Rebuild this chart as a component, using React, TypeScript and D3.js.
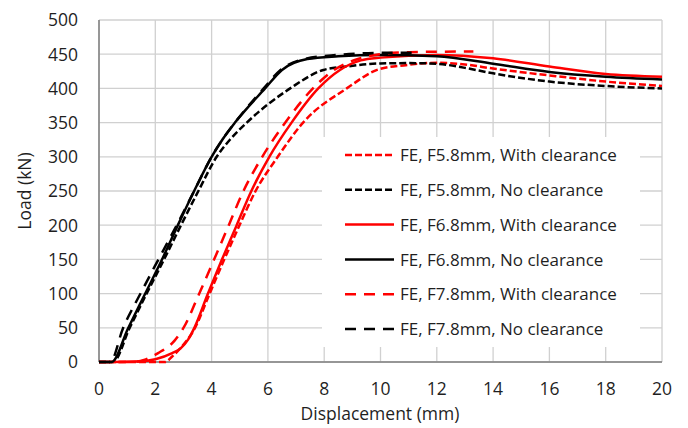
import React from "react";
import * as d3 from "d3";

type Pt = [number, number];

const xTicks = [0, 2, 4, 6, 8, 10, 12, 14, 16, 18, 20];
const yTicks = [0, 50, 100, 150, 200, 250, 300, 350, 400, 450, 500];

const f58With: Pt[] = [[0,0],[2.35,0],[2.6,8],[2.95,23],[3.4,49],[3.92,99],[4.44,149],[4.98,199],[5.55,249],[6.35,300],[7.25,350],[8.8,400],[9.95,428],[10.9,434],[12,437.5],[13,435],[14,429],[16,419],[18,410],[20,403.5]];
const f58No: Pt[] = [[0,0],[0.5,0],[1.08,49],[1.68,99],[2.3,149],[2.9,199],[3.53,250],[4.18,300],[4.65,325],[5.25,350],[6.79,400],[7.97,427],[8.8,432],[10,436.5],[11,437],[12,436],[13,430],[14,422],[16,410],[18,403.5],[20,400]];
const f68With: Pt[] = [[0,0],[0.45,0],[1.5,1],[2.0,4],[2.6,13],[2.9,20],[3.17,33],[3.4,51],[3.86,99],[4.36,149],[4.88,199],[5.4,249],[6.05,300],[6.84,350],[7.79,400],[8.56,427],[9.3,441],[10,445],[12,449],[14,444],[16,432],[18,421],[20,417]];
const f68No: Pt[] = [[0,0],[0.45,0],[1.03,49],[1.63,99],[2.23,149],[2.79,199],[3.38,250],[4.0,300],[4.38,325],[4.83,350],[5.9,400],[6.5,427],[7.4,443],[8.5,447],[10,449],[12,447],[14,436],[16,424],[18,417],[20,413]];
const f78With: Pt[] = [[0,0],[1.2,0],[1.6,3],[2.1,13],[2.7,32],[2.99,49],[3.55,99],[4.08,149],[4.6,199],[5.12,249],[5.8,300],[6.6,349],[7.6,400],[8.35,427],[9.2,443],[10,450],[11,453],[13.3,454]];
const f78No: Pt[] = [[0,0],[0.4,0],[0.85,49],[1.46,99],[2.1,149],[2.75,199],[3.38,250],[4.0,300],[4.38,325],[4.83,350],[5.85,400],[6.45,427],[7.3,443],[8.5,449],[10,452],[11.3,452]];

const seriesNames = [
  "FE, F5.8mm, With clearance",
  "FE, F5.8mm, No clearance",
  "FE, F6.8mm, With clearance",
  "FE, F6.8mm, No clearance",
  "FE, F7.8mm, With clearance",
  "FE, F7.8mm, No clearance",
];
const seriesData = [f58With, f58No, f68With, f68No, f78With, f78No];
const seriesColors = ["#ff0000", "#000000", "#ff0000", "#000000", "#ff0000", "#000000"];
const seriesDash = ["7,3", "7,3", "", "", "11,8", "11,8"];

export default function App() {
  const W = 688, H = 428;
  const x = d3.scaleLinear().domain([0, 20]).range([99, 662]);
  const y = d3.scaleLinear().domain([0, 500]).range([362, 20]);
  const line = d3.line<Pt>().x(d => x(d[0])).y(d => y(d[1])).curve(d3.curveMonotoneX);
  const font = "'Open Sans', sans-serif";
  const txt = "#1f1f1f";

  const legX = 322, legY = 137, legW = 318, legH = 210;
  const legRow0 = 155, legStep = 34.8;

  return (
    <svg width={W} height={H} style={{ position: "absolute", left: 0, top: 0 }} fontFamily={font}>
      <rect x={0} y={0} width={W} height={H} fill="#fff" />
      {yTicks.map(t => (
        <line key={"gy" + t} x1={x(0)} x2={x(20)} y1={y(t)} y2={y(t)} stroke="#d0d0d0" strokeWidth={1.3} />
      ))}
      {xTicks.map(t => (
        <line key={"gx" + t} x1={x(t)} x2={x(t)} y1={y(0)} y2={y(500)} stroke="#d0d0d0" strokeWidth={1.3} />
      ))}
      <rect x={legX} y={legY} width={legW} height={legH} fill="#fff" />
      <line x1={x(0)} x2={x(0)} y1={y(0)} y2={y(500)} stroke="#7f7f7f" strokeWidth={1.5} />
      <line x1={x(0)} x2={x(20)} y1={y(0)} y2={y(0)} stroke="#7f7f7f" strokeWidth={1.5} />
      {seriesData.map((d, i) => (
        <path key={"s" + i} d={line(d) || ""} fill="none" stroke={seriesColors[i]} strokeWidth={2.5}
          strokeDasharray={seriesDash[i] || undefined} />
      ))}
      {yTicks.map(t => (
        <text key={"ty" + t} x={78} y={y(t)} dy="0.36em" textAnchor="end" fontSize={17.5} fill={txt}>{t}</text>
      ))}
      {xTicks.map(t => (
        <text key={"tx" + t} x={x(t)} y={389} dy="0.36em" textAnchor="middle" fontSize={17.5} fill={txt}>{t}</text>
      ))}
      <text x={380} y={414} dy="0.36em" textAnchor="middle" fontSize={17.5} fill={txt}>Displacement (mm)</text>
      <text transform={`translate(25,191) rotate(-90)`} dy="0.36em" textAnchor="middle" fontSize={17.5} fill={txt}>Load (kN)</text>
      {seriesNames.map((n, i) => {
        const yy = legRow0 + i * legStep;
        return (
          <g key={"l" + i}>
            <line x1={345} x2={394} y1={yy} y2={yy} stroke={seriesColors[i]} strokeWidth={2.5}
              strokeDasharray={seriesDash[i] || undefined} />
            <text x={400} y={yy} dy="0.36em" fontSize={17} fill={txt}>{n}</text>
          </g>
        );
      })}
    </svg>
  );
}
